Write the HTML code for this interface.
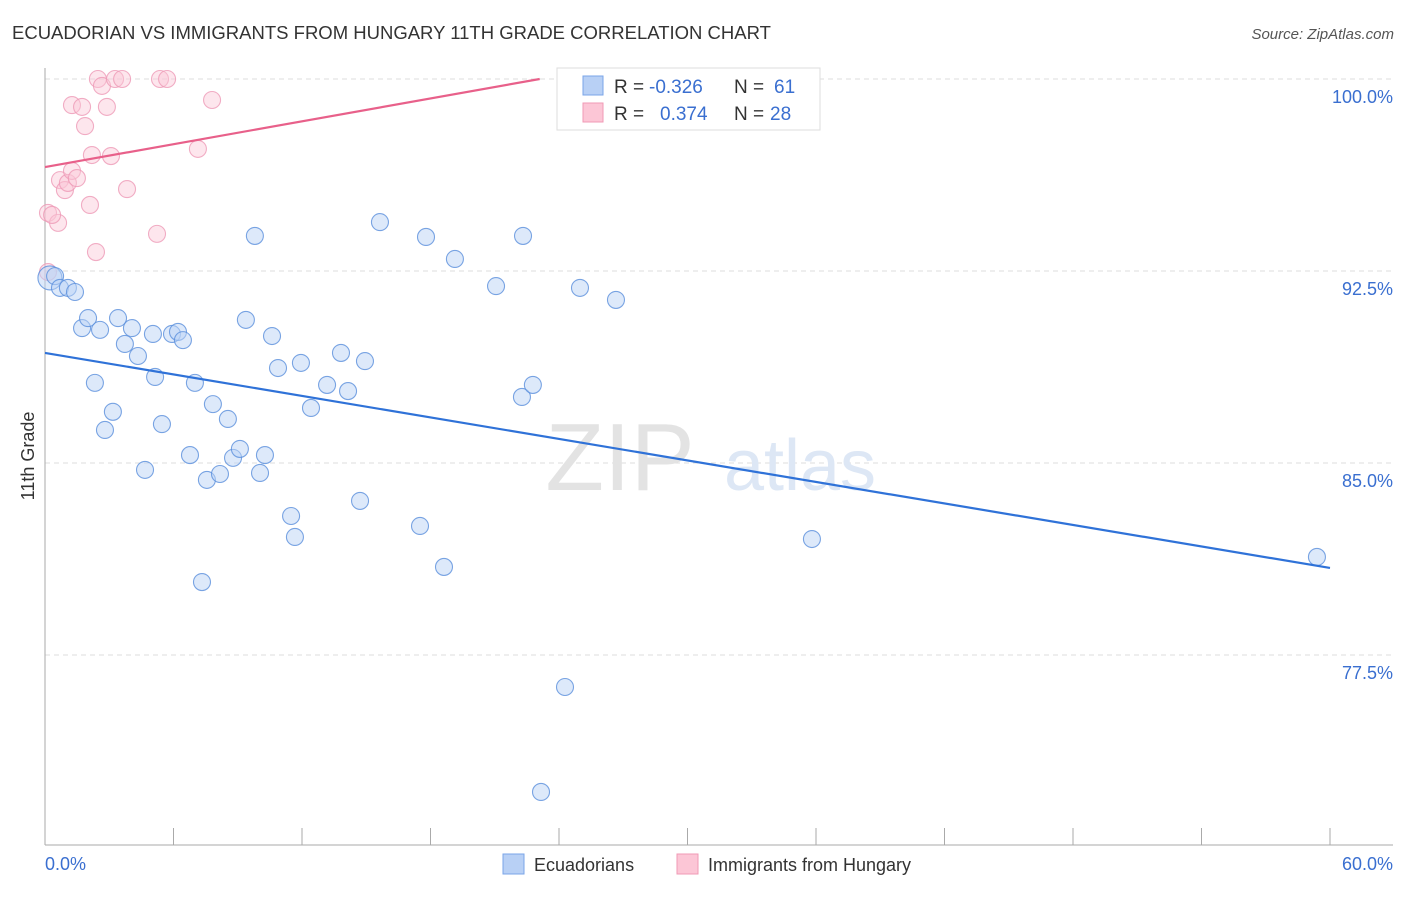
<!DOCTYPE html>
<html><head><meta charset="utf-8"><style>
body{margin:0;background:#fff;font-family:"Liberation Sans",sans-serif;}
svg text{font-family:"Liberation Sans",sans-serif;}
</style></head><body>
<svg id="chart" width="1406" height="892" xmlns="http://www.w3.org/2000/svg">
<text x="12" y="39" font-size="18.5" fill="#333">ECUADORIAN VS IMMIGRANTS FROM HUNGARY 11TH GRADE CORRELATION CHART</text>
<text x="1394" y="39" font-size="15" fill="#555" text-anchor="end" font-style="italic">Source: ZipAtlas.com</text>
<g id="grid"></g>
<text x="620" y="490" font-size="96" fill="#e3e3e3" font-family="Liberation Serif" text-anchor="middle">ZIP</text>
<text x="800" y="490" font-size="72" fill="#dde7f5" text-anchor="middle">atlas</text>
<g id="marks"></g>
<text x="34" y="456" font-size="18" fill="#333" text-anchor="middle" transform="rotate(-90 34 456)">11th Grade</text>
<text x="45" y="870" font-size="18" fill="#3a6fd0">0.0%</text>
<text x="1393" y="870" font-size="18" fill="#3a6fd0" text-anchor="end">60.0%</text>
<g>
<rect x="557" y="68" width="263" height="62" fill="#fff" stroke="#ddd"/>
<rect x="583" y="76" width="20" height="19" fill="#b8d0f5" stroke="#7aa5e8"/>
<rect x="583" y="103" width="20" height="19" fill="#fcc6d6" stroke="#f09ab5"/>
<text x="614" y="93" font-size="19" fill="#333">R =</text>
<text x="649" y="93" font-size="19" fill="#3a6fd0">-0.326</text>
<text x="734" y="93" font-size="19" fill="#333">N =</text>
<text x="774" y="93" font-size="19" fill="#3a6fd0">61</text>
<text x="614" y="120" font-size="19" fill="#333">R =</text>
<text x="660" y="120" font-size="19" fill="#3a6fd0">0.374</text>
<text x="734" y="120" font-size="19" fill="#333">N =</text>
<text x="770" y="120" font-size="19" fill="#3a6fd0">28</text>
</g>
<g>
<rect x="503" y="854" width="21" height="20" fill="#b8d0f5" stroke="#7aa5e8"/>
<text x="534" y="871" font-size="18" fill="#333">Ecuadorians</text>
<rect x="677" y="854" width="21" height="20" fill="#fcc6d6" stroke="#f09ab5"/>
<text x="708" y="871" font-size="18" fill="#333">Immigrants from Hungary</text>
</g>
</svg>
<script>
const yTicks=[100,92.5,85,77.5];
const yTickLabels=["100.0%","92.5%","85.0%","77.5%"];
const xTicks=[0,6,12,18,24,30,36,42,48,54,60];
const blueX=[0.23,0.47,0.70,1.07,1.40,1.73,2.01,2.57,2.33,2.80,3.17,3.41,3.73,4.06,4.34,4.67,5.04,5.14,5.46,5.93,6.21,6.44,6.77,7.00,7.33,7.56,7.84,8.17,8.54,8.78,9.10,9.38,9.80,10.04,10.27,10.60,10.88,11.49,11.67,11.95,12.42,13.17,13.82,14.15,14.71,14.94,15.64,17.51,17.79,18.63,19.14,21.06,22.27,22.32,22.78,23.16,24.28,24.98,26.66,35.81,59.39];
const blueY=[92.23,92.30,91.84,91.84,91.68,90.27,90.66,90.20,88.13,86.29,87.0,90.66,89.65,90.27,89.18,84.73,90.04,88.36,86.52,90.04,90.12,89.80,85.31,88.13,80.35,84.34,87.30,84.57,86.72,85.20,85.55,90.59,93.87,84.61,85.31,89.96,88.71,82.93,82.11,88.91,87.15,88.05,89.30,87.81,83.52,88.98,94.41,82.54,93.83,80.94,92.97,91.91,87.58,93.87,88.05,72.15,76.25,91.84,91.37,82.03,81.33];
const pinkX=[0.14,0.14,0.61,0.70,0.93,1.07,1.26,1.49,1.26,1.73,1.87,2.10,2.19,2.38,2.47,2.66,2.89,3.08,3.27,3.60,3.83,5.23,5.37,5.70,7.14,7.80,31.98,0.33];
const pinkY=[92.46,94.77,94.38,96.05,95.66,95.94,96.41,96.13,98.98,98.91,98.16,95.08,97.03,93.24,100,99.73,98.91,96.99,100,100,95.70,93.95,100,100,97.27,99.18,100,94.69];
const blueLine=[[0,89.3],[60,80.9]];
const pinkLine=[[0,96.56],[23.1,100]];
const NS="http://www.w3.org/2000/svg";
const xs=v=>45+v*1285/60;
const ys=v=>79+(100-v)*25.6;
function mk(tag,attrs,parent){const e=document.createElementNS(NS,tag);for(const k in attrs)e.setAttribute(k,attrs[k]);parent.appendChild(e);return e;}
const grid=document.getElementById('grid'),marks=document.getElementById('marks');
yTicks.forEach((t,i)=>{
 const l=mk('line',{x1:45,x2:1393,y1:ys(t),y2:ys(t),stroke:'#ddd','stroke-dasharray':'5,4'},grid);
 
 
 const tx=mk('text',{x:1393,y:ys(t)+24,'font-size':18,fill:'#3a6fd0','text-anchor':'end'},grid);
 tx.textContent=yTickLabels[i];
 
 
});
const ax=mk('line',{x1:45,x2:45,y1:68,y2:845,stroke:'#aaa'},grid);


const bx=mk('line',{x1:45,x2:1393,y1:845,y2:845,stroke:'#aaa'},grid);


xTicks.forEach(t=>{
 const l=mk('line',{x1:xs(t),x2:xs(t),y1:828,y2:845,stroke:'#aaa'},grid);
 
 
});
function pts(X,Y,fill,stroke,name,op){
 X.forEach((x,i)=>{
  const c=mk('circle',{cx:xs(x),cy:ys(Y[i]),r:(i==0&&name=='blue-point')?12:8.5,fill:fill,'fill-opacity':op,stroke:stroke,'stroke-opacity':0.8,'stroke-width':1.1},marks);
  
  
 });
}
pts(pinkX,pinkY,'#fbc8d7','#ee9ab6','pink-point',0.45);
pts(blueX,blueY,'#bcd3f5','#5a8fdc','blue-point',0.5);
const bl=mk('line',{x1:xs(blueLine[0][0]),y1:ys(blueLine[0][1]),x2:xs(blueLine[1][0]),y2:ys(blueLine[1][1]),stroke:'#2f72d8','stroke-width':2.2},marks);


const pl=mk('line',{x1:xs(pinkLine[0][0]),y1:ys(pinkLine[0][1]),x2:xs(pinkLine[1][0]),y2:ys(pinkLine[1][1]),stroke:'#e8608a','stroke-width':2.2},marks);


</script>
</body></html>
